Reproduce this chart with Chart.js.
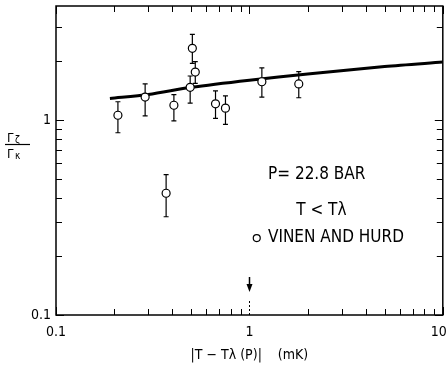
<!DOCTYPE html>
<html>
<head>
<meta charset="utf-8">
<script src="https://cdn.jsdelivr.net/npm/chart.js@4/dist/chart.umd.min.js"></script>
<style>
  html, body { margin: 0; padding: 0; background: #fff; }
  #wrap { width: 448px; height: 368px; }
</style>
</head>
<body>
<div id="wrap"><canvas id="myChart" width="448" height="368"></canvas></div>
<script>
// Vinen & Hurd points: |T - Tlambda| in mK, ratio, and error bar ends
var tVals  = [0.209, 0.289, 0.371, 0.407, 0.494, 0.507, 0.525, 0.668, 0.752, 1.16, 1.80];
var ratio  = [1.057, 1.31, 0.421, 1.19, 1.47, 2.33, 1.76, 1.21, 1.15, 1.57, 1.53];
var errLo  = [0.86, 1.05, 0.319, 0.99, 1.22, 1.95, 1.54, 1.02, 0.95, 1.31, 1.30];
var errHi  = [1.24, 1.53, 0.524, 1.35, 1.68, 2.75, 1.99, 1.41, 1.33, 1.85, 1.77];

// theory curve
var fitT = [0.19, 0.3, 0.5, 1, 2, 5, 10];
var fitR = [1.29, 1.35, 1.47, 1.60, 1.72, 1.88, 1.98];

var xTickLabels = ['0.1', '1', '10'];
var yTickLabels = ['0.1', '1'];

var FONT = "'DejaVu Sans Condensed', 'Liberation Sans Narrow', 'DejaVu Sans', sans-serif";
Chart.defaults.font.family = FONT;
Chart.defaults.color = '#000';

function isDecade(v) {
    var l = Math.log10(v);
    return Math.abs(l - Math.round(l)) < 1e-6;
}
function keepNice(scale) {
    scale.ticks = scale.ticks.filter(function (t) {
        var l = Math.log10(t.value);
        var m = t.value / Math.pow(10, Math.floor(l + 1e-9));
        return Math.abs(m - Math.round(m)) < 1e-6;
    });
}

var errorBars = {
    id: 'errorBars',
    beforeDatasetsDraw: function (chart) {
        var ctx = chart.ctx, xs = chart.scales.x, ys = chart.scales.y;
        ctx.save();
        ctx.strokeStyle = '#000';
        ctx.lineWidth = 1.2;
        for (var i = 0; i < tVals.length; i++) {
            var px = xs.getPixelForValue(tVals[i]);
            var y1 = ys.getPixelForValue(errLo[i]);
            var y2 = ys.getPixelForValue(errHi[i]);
            ctx.beginPath();
            ctx.moveTo(px, y1); ctx.lineTo(px, y2);
            ctx.moveTo(px - 2.5, y1); ctx.lineTo(px + 2.5, y1);
            ctx.moveTo(px - 2.5, y2); ctx.lineTo(px + 2.5, y2);
            ctx.stroke();
        }
        ctx.restore();
    }
};

var frameAndText = {
    id: 'frameAndText',
    afterDraw: function (chart) {
        var ctx = chart.ctx, a = chart.chartArea;
        var xs = chart.scales.x, ys = chart.scales.y;
        ctx.save();
        ctx.strokeStyle = '#000';
        ctx.lineWidth = 1.5;
        ctx.strokeRect(a.left, a.top, a.right - a.left, a.bottom - a.top);

        // inward ticks
        ctx.lineWidth = 1;
        ctx.beginPath();
        xs.ticks.forEach(function (t) {
            var px = Math.round(xs.getPixelForValue(t.value)) + 0.5;
            if (t.value === 1) return;
            var len = isDecade(t.value) ? 8 : 6;
            ctx.moveTo(px, a.bottom); ctx.lineTo(px, a.bottom - len);
            ctx.moveTo(px, a.top); ctx.lineTo(px, a.top + len);
        });
        ys.ticks.forEach(function (t) {
            var py = Math.round(ys.getPixelForValue(t.value)) + 0.5;
            var len = isDecade(t.value) ? 8 : 6;
            ctx.moveTo(a.left, py); ctx.lineTo(a.left + len, py);
            ctx.moveTo(a.right, py); ctx.lineTo(a.right - len, py);
        });
        ctx.stroke();

        // arrow at 1 mK
        var ax = Math.round(xs.getPixelForValue(1)) + 0.5;
        ctx.beginPath();
        ctx.moveTo(ax, a.top); ctx.lineTo(ax, a.top + 8);
        ctx.stroke();
        ctx.setLineDash([2, 2]);
        ctx.beginPath();
        ctx.moveTo(ax, a.bottom); ctx.lineTo(ax, a.bottom - 14);
        ctx.stroke();
        ctx.setLineDash([]);
        ctx.lineWidth = 1.5;
        ctx.beginPath();
        ctx.moveTo(ax, a.bottom - 38); ctx.lineTo(ax, a.bottom - 28);
        ctx.stroke();
        ctx.fillStyle = '#000';
        ctx.beginPath();
        ctx.moveTo(ax - 3, a.bottom - 31); ctx.lineTo(ax + 3, a.bottom - 31); ctx.lineTo(ax, a.bottom - 23);
        ctx.closePath();
        ctx.fill();

        // annotations
        var w = a.right - a.left, h = a.bottom - a.top;
        ctx.font = '17px ' + FONT;
        ctx.textAlign = 'center';
        ctx.textBaseline = 'middle';
        ctx.fillText('P= 22.8 BAR', a.left + 0.674 * w, a.top + 0.547 * h);
        ctx.fillText('T < Tλ', a.left + 0.686 * w, a.top + 0.663 * h);
        ctx.textAlign = 'left';
        ctx.fillText('VINEN AND HURD', a.left + 0.548 * w, a.top + 0.751 * h);
        ctx.lineWidth = 1.2;
        ctx.beginPath();
        ctx.arc(a.left + 0.519 * w, a.top + 0.751 * h, 3.5, 0, Math.PI * 2);
        ctx.stroke();

        // y axis title as a fraction
        ctx.font = '13px ' + FONT;
        ctx.textAlign = 'left';
        ctx.textBaseline = 'alphabetic';
        ctx.fillText('Γ', 7, 142);
        ctx.fillText('Γ', 7, 158);
        ctx.font = '10px ' + FONT;
        ctx.fillText('ζ', 15, 143);
        ctx.fillText('κ', 15, 159);
        ctx.lineWidth = 1.2;
        ctx.beginPath();
        ctx.moveTo(5, 144.5); ctx.lineTo(30, 144.5);
        ctx.stroke();
        ctx.restore();
    }
};

var ctx = document.getElementById('myChart').getContext('2d');
var myChart = new Chart(ctx, {
    data: {
        datasets: [{
            type: 'scatter',
            data: tVals.map(function (t, i) { return { x: t, y: ratio[i] }; }),
            pointStyle: 'circle',
            pointRadius: 4,
            pointBackgroundColor: '#fff',
            pointBorderColor: '#000',
            pointBorderWidth: 1.2,
            order: 0
        }, {
            type: 'line',
            data: fitT.map(function (t, i) { return { x: t, y: fitR[i] }; }),
            borderColor: '#000',
            borderWidth: 3,
            pointRadius: 0,
            tension: 0.3,
            fill: false,
            order: 1
        }]
    },
    options: {
        responsive: false,
        animation: false,
        devicePixelRatio: 1,
        layout: { padding: { top: 6, right: 5, left: 0, bottom: 0 } },
        plugins: { legend: { display: false }, tooltip: { enabled: false } },
        scales: {
            x: {
                type: 'logarithmic',
                min: 0.1,
                max: 10,
                afterBuildTicks: keepNice,
                afterFit: function (s) {
                    s.height = 53;
                    s.paddingLeft = 0; s.paddingRight = 0;
                },
                grid: { display: false, drawTicks: false },
                border: { display: false },
                ticks: {
                    autoSkip: false,
                    maxRotation: 0,
                    padding: 9,
                    font: { size: 14 },
                    callback: function (v) {
                        var s = String(+Number(v).toPrecision(3));
                        if (xTickLabels.indexOf(s) < 0) return '';
                        // last label sits at the canvas edge, nudge it left
                        return s === '10' ? s + '  ' : s;
                    }
                },
                title: {
                    display: true,
                    text: '|T − Tλ (P)|    (mK)',
                    font: { size: 14 },
                    padding: { top: 0 }
                }
            },
            y: {
                type: 'logarithmic',
                min: 0.1,
                max: 3.84,
                afterBuildTicks: keepNice,
                afterFit: function (s) {
                    s.width = 56;
                    s.paddingTop = 0; s.paddingBottom = 0;
                },
                grid: { display: false, drawTicks: false },
                border: { display: false },
                ticks: {
                    autoSkip: false,
                    padding: 5,
                    font: { size: 14 },
                    callback: function (v) {
                        var s = String(+Number(v).toPrecision(3));
                        return yTickLabels.indexOf(s) >= 0 ? s : '';
                    }
                }
            }
        }
    },
    plugins: [errorBars, frameAndText]
});
</script>
</body>
</html>
